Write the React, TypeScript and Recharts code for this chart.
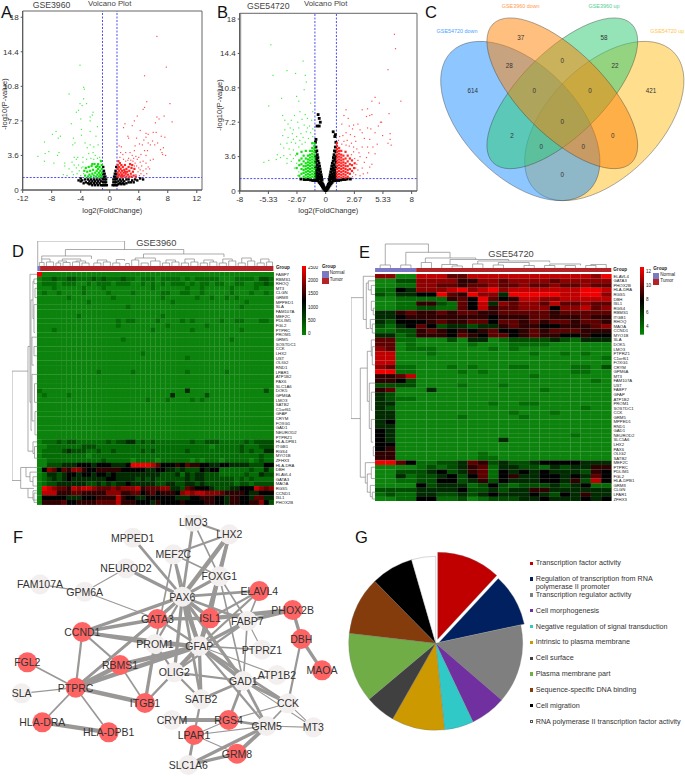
import { ScatterChart, Scatter, XAxis, YAxis, ReferenceLine, ReferenceArea, BarChart, Bar, PieChart, Pie, Cell, Sector, Legend } from 'recharts';

const FONT = '"Liberation Sans", Arial, sans-serif';

// Panel A volcano (log2FC, -log10 P)
const aRed = [[6.5,16],[7.8,12.8],[4.8,11.9],[5.1,9.2],[4.8,8.6],[4.6,8.4],[8.3,9],[3.8,7.7],[7.5,7.7],[6.5,7.6],[8.6,7.1],[6.8,7.4],[6.3,7],[3.4,7.2],[3.1,6.7],[2.1,6.9],[1.9,6.5],[4.2,6.2],[5,5.9],[5.3,5.8],[6,6],[6.4,6],[2.5,5.6],[2.6,5.4],[3.7,5.4],[5,5.5],[4.7,5.2],[7.1,5.6],[7.6,5.5],[5.9,5.1],[1.3,4.6],[1.6,4.5],[3.5,4.6],[4.1,4.8],[4.5,4.7],[5.3,4.9],[5.6,4.7],[6.2,4.7],[6.6,4.9],[7.4,4.4],[7,4.2],[7.2,3.9],[7.7,3.6],[7.3,3.7],[5.2,4.1],[4.8,4.1],[4.3,3.7],[3.4,4.1],[2.8,3.9],[3.1,3.6],[2.2,3.9],[1.8,3.7],[6,3.2],[5.6,3.1],[5,3.6],[5,2.8],[4.6,3],[4.2,2.9],[3.8,3.2],[5.3,2.4],[5,2.2],[4.6,2],[5.5,2.2],[3.6,3.5],[4,3.4],[2.6,3.3],[3.2,3],[3.5,2.8],[2.5,3.1],[4.4,2.5],[4,2.3],[3.7,2.5],[3.9,1.9],[4.3,1.7],[4.7,1.5],[3.6,1.6],[1.4,3.4],[1.9,3.2],[2.2,3],[2.9,3.1],[3.3,3.3],[4.2,2.1],[3.4,2.5],[4.1,1.5],[5.1,1.7],[1.5,3.9]];
const aRedDense = [[1.1,1.4],[1.1,1.8],[1.1,2.2],[1.1,2.6],[1.2,3],[1.3,1.6],[1.3,2],[1.3,2.4],[1.4,2.8],[1.5,1.4],[1.5,1.8],[1.5,2.2],[1.6,2.6],[1.7,1.6],[1.7,2],[1.8,1.4],[1.8,2.4],[1.9,1.8],[2,1.5],[2,2.1],[2.1,2.6],[2.2,1.7],[2.3,1.4],[2.3,2.2],[2.4,1.9],[2.5,1.6],[2.6,2.4],[2.7,1.4],[2.7,2],[2.9,1.7],[3,2.3],[3,1.4],[3.2,1.9],[3.3,1.5],[3.4,2.2],[3.6,1.4],[1.2,1.5],[1.6,1.5],[2.1,1.9],[2.8,2.7],[3.1,2.6]];
const aGreen = [[-4.1,13],[-3.6,10.7],[-3.5,10.5],[-5.6,10],[-3.6,9.5],[-3.2,9],[-4.1,9],[-3.8,8.8],[-4.3,8.3],[-4.6,8.1],[-2.3,8.1],[-2.7,7.6],[-2.4,7.8],[-4,7.4],[-5.3,6.9],[-2.7,7.2],[-1.7,6.6],[-3.9,6.3],[-2.7,6.1],[-7.4,6.1],[-7.9,5.8],[-6.8,5.6],[-7.1,5.4],[-9,5],[-5,5.4],[-3.9,5.7],[-1.9,5.6],[-5.1,4.7],[-3.4,4.9],[-2.7,4.7],[-8.9,3.8],[-8.4,4],[-9.9,3.5],[-9,3],[-7,3.9],[-7.2,3.6],[-7.7,2.8],[-6.2,2.8],[-6.2,2.5],[-6.4,1.6],[-4.8,4.9],[-3.1,4.4],[-2.2,4.5],[-1.6,4.7],[-4.9,3.4],[-4.6,3.2],[-4.4,3.4],[-3.7,3.4],[-2.9,3.8],[-2.3,3.9],[-2,3.6],[-1.4,3.4],[-1.7,3.3],[-5.2,2.9],[-4.9,2.6],[-5.6,2.2],[-5.2,1.9],[-5,1.6],[-4.6,2.3],[-4.3,2.6],[-4.2,2],[-3.7,2.9],[-3.6,1.7],[-4,1.5],[-5.9,1.5],[-1.3,3.1],[-3.2,3.2],[-2.6,3.3],[-2.2,3.2],[-3.9,2.3],[-3.7,2.4],[-4.5,1.7]];
const aGreenDense = [[-1.1,1.4],[-1.1,1.8],[-1.1,2.2],[-1.1,2.6],[-1.2,3],[-1.3,1.6],[-1.3,2],[-1.4,2.4],[-1.5,1.4],[-1.5,1.8],[-1.6,2.2],[-1.6,2.7],[-1.7,1.6],[-1.8,2],[-1.9,1.4],[-1.9,2.4],[-2,1.8],[-2.1,2.7],[-2.2,1.5],[-2.3,2.1],[-2.4,1.7],[-2.5,2.5],[-2.6,1.4],[-2.7,2],[-2.8,1.6],[-2.9,2.4],[-3,1.4],[-3.1,1.9],[-3.3,2.3],[-3.4,1.5],[-3.5,2],[-1.2,1.5],[-1.7,2.5],[-2.4,2.7]];
const aBlack = [[-0.4,0.5],[-0.5,0.8],[-0.5,1.1],[-0.6,0.5],[-0.6,1.4],[-0.7,0.8],[-0.7,1.1],[-0.7,1.7],[-0.8,0.5],[-0.8,1.4],[-0.8,2],[-0.9,0.8],[-0.9,1.1],[-0.9,1.7],[-0.9,2.4],[-1,0.5],[-1,1.2],[-1.2,0.5],[-1.2,0.9],[-1.4,0.7],[-1.4,1.1],[-1.6,0.5],[-1.6,0.9],[-1.8,0.7],[-1.8,1.1],[-2,0.5],[-2,0.9],[-2.2,0.7],[-2.2,1.1],[-2.4,0.5],[-2.4,0.9],[-2.6,0.7],[-2.6,1.1],[-2.8,0.6],[-2.8,0.9],[-3,0.7],[-3,1.1],[-3.3,0.8],[-3.4,1.1],[-3.6,0.7],[-3.8,1],[-4,0.9],[-4,1.2],[-4.3,1],[0.4,0.5],[0.5,0.8],[0.5,1.1],[0.6,0.5],[0.6,1.4],[0.7,0.8],[0.7,1.1],[0.7,1.7],[0.8,0.5],[0.8,1.4],[0.8,2],[0.9,0.8],[0.9,1.1],[0.9,1.7],[0.9,2.4],[1,0.5],[1,1.2],[1.2,0.6],[1.2,0.9],[1.4,0.7],[1.4,1.1],[1.6,0.6],[1.6,0.9],[1.8,0.7],[1.8,1.1],[2,0.6],[2,0.9],[2.3,0.7],[2.3,1.1],[2.6,0.8],[2.6,1.1],[2.9,0.8],[3.1,1],[3.3,0.8],[3.5,1.1],[3.8,1],[4.2,1.2],[4.6,1.1]];

// Panel B volcano
const bRed = [[6.4,16.4],[6.5,14.9],[5.8,12.7],[7,9.4],[4.6,9.8],[5,9.2],[4.3,9.4],[3.9,8.6],[3.4,8.5],[1.9,8.5],[4.3,8],[5.9,8.1],[4.1,7.9],[3.8,7.8],[5.2,7.2],[5.1,7.2],[3,7],[2.6,6.9],[2.1,7.6],[1.7,7.9],[1.5,7],[2.2,6.8],[2.5,6.5],[3.2,6.4],[3.4,6.1],[3.9,6.6],[4.2,6.5],[4.9,6.8],[4.6,6.1],[6,6],[5.3,5.8],[4.1,5.4],[3.6,5.5],[6,5.4],[5.8,5],[6.1,4.8],[4.8,4.9],[4.4,4.6],[3.9,4.6],[3.4,4.6],[4,4],[4.6,3.9],[3.1,4],[3.2,3.6],[3.8,3.5],[3.6,3],[4.1,2.5],[3.4,2.4],[4.3,2.8],[3.9,1.9],[3.5,1.8],[3.2,1.6],[2.9,2.8],[3,2.2],[2.7,5.7],[2.3,5.9],[1.9,6.1],[1.6,5.8],[1.3,5.7],[2.8,5.2],[2.4,5],[2,5.3],[1.7,5.2],[2.9,4.4],[2.6,4.1],[2.7,3.4],[2.8,1.7],[2.5,1.5],[2.2,1.4],[1.2,5.3],[2.2,4.7],[1.5,4.9],[1.9,4.8],[2.6,4.6],[2.4,3.8],[3,3.2],[2.8,2.4],[2.6,1.9]];
const bRedDense = [[1.05,1.4],[1.05,1.7],[1.05,2],[1.05,2.3],[1.05,2.6],[1.05,2.9],[1.05,3.2],[1.05,3.5],[1.05,3.8],[1.05,4.1],[1.05,4.4],[1.05,4.7],[1.05,5],[1.25,1.5],[1.25,1.8],[1.25,2.1],[1.25,2.4],[1.25,2.7],[1.25,3],[1.25,3.3],[1.25,3.6],[1.25,3.9],[1.25,4.2],[1.25,4.5],[1.45,1.4],[1.45,1.7],[1.45,2],[1.45,2.3],[1.45,2.6],[1.45,2.9],[1.45,3.2],[1.45,3.5],[1.45,3.8],[1.45,4.2],[1.65,1.5],[1.65,1.8],[1.65,2.1],[1.65,2.4],[1.65,2.7],[1.65,3],[1.65,3.3],[1.65,3.7],[1.85,1.4],[1.85,1.7],[1.85,2],[1.85,2.3],[1.85,2.6],[1.85,2.9],[1.85,3.4],[1.85,4.1],[2.05,1.5],[2.05,1.9],[2.05,2.2],[2.05,2.6],[2.05,3.1],[2.05,3.7],[2.25,1.8],[2.25,2.3],[2.25,2.8],[2.25,3.4],[2.45,2.1],[2.45,2.7],[2.45,3.2],[2.65,2.4],[2.7,2.9]];
const bGreen = [[-5.1,15.3],[-4.9,12.1],[-3.6,12.6],[-2.1,13.6],[-2.8,12.3],[-1.9,12.1],[-1.8,11.4],[-2,10.6],[-4.1,9.7],[-5.3,8.9],[-2.7,9.9],[-2.5,9.4],[-4,7.9],[-2.9,7.9],[-2.4,8.3],[-1.9,8],[-1.4,9.2],[-1.2,8.3],[-5.75,3],[-5.3,3.2],[-4.5,3.8],[-3.9,3.7],[-3.8,7.4],[-3.5,7],[-3.2,7.4],[-2.6,7.2],[-2.2,7.5],[-1.7,7.6],[-1.3,7.4],[-3.8,6.4],[-3.3,6.6],[-3,6.4],[-2.5,6.6],[-2,6.9],[-1.5,6.8],[-1.2,6.5],[-4,5.8],[-3.5,5.6],[-3.1,6],[-2.7,5.7],[-2.3,6],[-1.8,6.2],[-3.6,5],[-3.2,5.1],[-2.8,5],[-2.4,5.3],[-4.2,4.9],[-3.9,4.5],[-3.4,4.4],[-3,4.3],[-3.6,3.4],[-3.3,3.8],[-3,3.4],[-3.2,3.1],[-2.8,3.7],[-4.2,3.5],[-2.7,2.9],[-2.9,2.4],[-3,5.4],[-1.6,5.5],[-1.2,5.7],[-2.5,2],[-2.6,1.6],[-2.4,1.4],[-2.1,5.6],[-1.9,5.1],[-1.4,6.1],[-2.5,4.6],[-2.2,4.9],[-1.7,6.6],[-4.6,3.3],[-3.6,2.9]];
const bGreenDense = [[-1.05,1.4],[-1.05,1.7],[-1.05,2],[-1.05,2.3],[-1.05,2.6],[-1.05,2.9],[-1.05,3.2],[-1.05,3.5],[-1.05,3.8],[-1.05,4.1],[-1.05,4.4],[-1.05,4.7],[-1.05,5],[-1.25,1.5],[-1.25,1.8],[-1.25,2.1],[-1.25,2.4],[-1.25,2.7],[-1.25,3],[-1.25,3.3],[-1.25,3.6],[-1.25,3.9],[-1.25,4.2],[-1.25,4.5],[-1.25,5],[-1.45,1.4],[-1.45,1.7],[-1.45,2],[-1.45,2.3],[-1.45,2.6],[-1.45,2.9],[-1.45,3.2],[-1.45,3.5],[-1.45,3.8],[-1.45,4.2],[-1.65,1.5],[-1.65,1.8],[-1.65,2.1],[-1.65,2.4],[-1.65,2.7],[-1.65,3],[-1.65,3.3],[-1.65,3.7],[-1.85,1.4],[-1.85,1.7],[-1.85,2],[-1.85,2.3],[-1.85,2.6],[-1.85,2.9],[-1.85,3.4],[-1.85,4.2],[-2.05,1.5],[-2.05,1.9],[-2.05,2.2],[-2.05,2.6],[-2.05,3.1],[-2.05,3.7],[-2.25,1.8],[-2.25,2.3],[-2.25,2.8],[-2.25,3.4],[-2.25,4.1],[-2.45,1.6],[-2.45,2.7],[-2.45,3.2],[-2.65,3.9],[-2.7,2.4]];
const bBlack = [[0,0.05],[-0.08,0.1],[0.08,0.1],[-0.16,0.2],[0.16,0.2],[-0.08,0.25],[0.08,0.25],[-0.24,0.3],[0.24,0.3],[-0.14,0.4],[0.14,0.4],[-0.3,0.45],[0.3,0.45],[-0.2,0.55],[0.2,0.55],[-0.4,0.6],[0.4,0.6],[-0.25,0.7],[0.25,0.7],[-0.5,0.75],[0.5,0.75],[-0.32,0.85],[0.32,0.85],[-0.6,0.9],[0.6,0.9],[-0.42,1],[0.42,1],[-0.7,1.05],[0.7,1.05],[-0.85,1.1],[0.85,1.1],[-1,1.1],[1,1.1],[-1.2,1.1],[1.2,1.1],[-1.4,1.15],[1.4,1.15],[-1.6,1.2],[1.6,1.2],[-1.8,1.2],[1.8,1.2],[-2,1.2],[2,1.25],[-2.3,1.25],[2.3,1.25],[-0.33,1.2],[0.33,1.2],[-0.5,1.25],[0.5,1.25],[-0.65,1.3],[0.65,1.3],[-0.8,1.35],[0.8,1.35],[-0.95,1.4],[0.95,1.4],[-0.38,1.45],[0.38,1.45],[-0.55,1.5],[0.55,1.5],[-0.72,1.6],[0.72,1.6],[-0.88,1.65],[0.88,1.65],[-0.42,1.7],[0.42,1.7],[-0.6,1.8],[0.6,1.8],[-0.78,1.9],[0.78,1.9],[-0.95,1.95],[0.95,1.95],[-0.47,2],[0.47,2],[-0.65,2.15],[0.65,2.15],[-0.85,2.2],[0.85,2.2],[-0.52,2.3],[0.52,2.3],[-0.72,2.45],[0.72,2.45],[-0.95,2.5],[0.95,2.5],[-0.57,2.6],[0.57,2.6],[-0.8,2.75],[0.8,2.75],[-0.62,2.9],[0.62,2.9],[-0.95,3],[0.95,3],[-0.7,3.15],[0.7,3.15],[-0.85,3.3],[0.85,3.3],[-0.72,3.5],[0.72,3.5],[-0.95,3.6],[0.95,3.6],[-0.78,3.8],[0.78,3.8],[-0.95,4.1],[0.95,4.1],[-0.82,4.2],[0.82,4.2],[-0.9,4.6],[0.9,4.6],[-0.95,5.1],[0.95,5.1],[-0.9,5.4],[0.85,5.7],[-0.8,6.8],[-0.6,6.8],[-0.5,7.2],[-0.6,7.6],[-0.7,8],[0.7,6.2],[0.9,5.9]];

// Panels D and E heatmaps: one digit per cell, 0 green, 4 black, 9 red
const dGenes = ['FABP7','RBMS1','RHOQ','MT3','CLGN','GRM8','MPPED1','SLA','FAM107A','MEF2C','PDLIM1','FGL2','PTPRC','PROM1','GRM5','SOSTDC1','CCK','LHX2','UST','OLIG2','RND1','LPAR1','ATP1B2','PAX6','SLC1A6','DOK5','GPM6A','LMO3','SATB2','C1orf61','GFAP','CRYM','FOXG1','GAD1','NEUROD2','PTPRZ1','HLA-DPB1','ITGB1','RGS4','MYO1B','ZFHX3','HLA-DRA','DBH','ELAVL4','GATA3','MAOA','RGS5','CCND1','ISL1','PHOX2B'];
const dRows = [
  '900000000000 000000000000 000000000000 000000000000',
  '011211221112 121112110111 011110101111 100011110221',
  '011101110010 111011100101 010111010110 110011001121',
  '000100000100 010000000001 000000100100 000100001000',
  '010010000100 001000010000 011001100100 000100010010',
  '000000100000 000100000000 010000001001 001010000000',
  '000000000010 000000000000 000100000000 000000100000',
  '000000000000 000000100000 000000000000 000001000000',
  '000000000000 000000000000 000000000000 000000000000',
  '000000001000 000000000000 010000000000 000000000000',
  '000000000000 000010110000 100001010000 010011000110',
  '000000000000 000010000000 001000000010 000000000000',
  '000100000000 000000000001 000000010000 000001000000',
  '000000000000 000000000000 000000000000 000000000000',
  '000000000000 000001000000 000000000000 000100000000',
  '000000000000 000000000000 000000000000 000000000000',
  '000000000000 000000000000 000000000000 000000000000',
  '000000000000 000000000100 000000000000 000000000000',
  '000000000000 000000000000 000000100000 000000000000',
  '000000000000 000000000000 000000000000 000000000000',
  '000000000000 000000000000 000000000000 000000000000',
  '000000000000 100000010000 000000100000 001000000000',
  '000000000000 000000000000 000000000000 000000000000',
  '000000000000 000000000000 000000000000 000000000000',
  '000000000000 000000000000 000000000000 000000000000',
  '100000000000 000000000000 000000300000 000000000020',
  '010000100000 000000000000 000300000020 000000000000',
  '000000000000 000000000010 001000010100 000000000000',
  '000000000000 000000000000 000000000000 000000000000',
  '000000000000 000000000000 000000000000 000000000000',
  '000000000000 000000000000 000000000000 000000000000',
  '000000000000 000000000000 000000000000 000000000000',
  '000000000000 000000000000 000000000000 000000000000',
  '000000000000 000000000000 000000000000 000000000000',
  '000000000000 000000000000 000000000000 000000000000',
  '000000000000 000000000000 000000000000 000000000000',
  '011121221111 112122331212 111111121122 211111212222',
  '001111111222 111111111111 111111111110 111112111222',
  '011112322211 211211111212 111111211111 111112121133',
  '011111111101 111111111111 111111111111 111111111211',
  '001111111111 121111101111 011111101011 101111101211',
  '002223334443 444333499998 644454655443 344333322244',
  '047646577544 555554444433 443323222434 411111121131',
  '013323443443 443433333333 322231323322 211111211322',
  '012323433333 334433332323 222222323322 222212121111',
  '012233333322 323233433333 223322332322 222212212222',
  '098766587887 666767778566 677332654443 222334448767',
  '088855566555 557775566456 455547878877 765555433444',
  '044444333444 555585443344 444433344555 443554436633',
  '055556445555 666685554443 544445444455 443554455742',
];
const eGenes = ['ELAVL4','GATA3','PHOX2B','HLA-DRA','RGS5','DBH','ISL1','RGS4','RBMS1','ITGB1','RHOQ','MAOA','CCND1','MYO1B','SLA','DOK5','LMO3','PTPRZ1','C1orf61','FOXG1','CRYM','GPM6A','MT3','FAM107A','UST','FABP7','GFAP','ATP1B2','PROM1','SOSTDC1','CCK','GRM5','MPPED1','RND1','GAD1','NEUROD2','SLC1A6','LHX2','PAX6','OLIG2','SATB2','MEF2C','PTPRC','PDLIM1','FGL2','HLA-DPB1','GRM8','CLGN','LPAR1','ZFHX3'];
const eRows = [
  '7700 8886688888888888879',
  '0022 7777557767777677777',
  '0011 7766566766766766766',
  '1143 7778978978888888998',
  '2133 4496597739999988997',
  '0011 1115649645887788888',
  '0011 5521648376776866766',
  '0011 2211648566777477867',
  '3356 5565665566666566666',
  '3345 5555555455566555655',
  '3244 4565566466565665665',
  '2134 6423323356554455567',
  '1122 5654545644565666555',
  '3312 5554654664565544544',
  '6611 0002033012222321333',
  '6601 0000010001111000000',
  '7601 1100000101000000000',
  '8800 0100000000010010100',
  '8800 0000000000000000001',
  '8800 0000000000000000000',
  '7611 0001010001100001102',
  '9911 0000101000000001100',
  '5568 0000000000010000000',
  '5542 0000000000000000010',
  '2222 0000100010000000000',
  '5600 0300000000001000000',
  '3200 0000000000000000000',
  '3211 0000000000000000000',
  '3300 0000000100110000000',
  '3200 0000000000000000100',
  '3300 0000000001000100000',
  '3300 0000100000100000000',
  '3400 0000000000000000000',
  '3300 0000000000000000000',
  '4300 0000000000000000000',
  '4300 0000000000000001000',
  '4300 0000000030000000000',
  '4400 0000000000000000000',
  '4500 0000000000000000000',
  '5500 0000001000000000000',
  '5500 0000001100000000000',
  '9964 1122365232234444333',
  '0000 1212356133221323355',
  '0022 2342356143434333254',
  '0031 2234246145334434364',
  '0011 2244235243334435284',
  '0000 4233312421222323411',
  '2222 3333422323355333333',
  '1211 3322323433343243533',
  '0011 4411201222334333434',
];
const heatColors = ['#0c830c','#046c04','#004e00','#002a00','#000000','#2e0000','#5c0000','#8c0000','#c00000','#f00000'];

// Dendrograms: [a, heightA, b, heightB, top]
const dTopLinks = [[0.3,0,37,16.5,25],[12,10,62,12,16.5],[2,7,23,7,10],[45,8,79,9,12],[1,0,3,0,3.5],[4,0,7,0,4],[2,3.5,5.5,4,7],[8,0,10,0,3],[11,0,14,0,3.5],[9,3,12.5,3.5,5],[15,0,18,0,4],[19,0,22,0,3],[16.5,4,20.5,3,5],[10.7,5,18.5,5,7],[24,0,27,0,3],[28,0,31,0,4],[25.5,3,29.5,4,6],[32,0,35,0,3],[33.5,3,37,5,6.5],[40,0,43,0,6],[41.5,6,50,5,8],[44,0,47,0,3],[48,0,52,0,5],[53,0,56,0,3],[57,0,60,0,4],[54.5,3,58.5,4,6],[61,0,64,0,3],[65,0,68,0,4],[62.5,3,66.5,4,7],[69,0,72,0,3],[73,0,76,0,4],[70.5,3,74.5,4,6],[77,0,80,0,3],[81,0,84,0,5],[78.5,3,82.5,5,7],[85,0,88,0,3],[89,0,92,0,5],[86.5,3,90.5,5,8],[93,0,96,0,3],[97,0,99.5,0,4],[94.5,3,98,4,7],[37.5,0,39,0,2.5]];
const dSideLinks = [[21.3,9,44.8,16.3,25],[16,7,38.5,4,9],[0.5,0,28,6,7],[6,4,34,5,6],[2,3,10,3,4],[1.5,0,2.5,0,3],[3.5,0,5.5,0,2],[7,0,13,2,3],[14,0,20,3,5],[22,0,32,2.5,5],[24,0,28,0,2.5],[30,0,35,0,2],[16,0,18,0,3],[36.5,0,39,2.5,4],[37.5,0,40,0,2.5],[42,11,46.5,9,16.3],[42,0,44,7,11],[43,0,45,4,7],[44,0,46,0,4],[46.5,3,48.5,4,9],[47.5,0,49.5,0,3],[47,0,49,0,4]];
const eTopLinks = [[1,3,5.2,15.7,24],[0.5,0,1.5,0,3],[2.5,0,3.5,0,3],[3,3,7.3,10,15.7],[4.9,5.5,9.8,8.5,10],[4.5,0,5.5,0,5.5],[7.3,3.5,13,7,8.5],[6.5,0,8,2,3.5],[7.5,0,8.5,0,2],[10,4,17,5.5,7],[9.5,0,10.5,0,4],[11.5,0,12.5,0,3],[12,3,15,2.5,5.5],[14.5,0,15.5,0,2.5],[16.5,0,17.5,0,2.5],[17,2.5,20,2.5,4],[18.5,0,19.5,0,2.5],[20.5,0,21.5,0,2.5],[21,2.5,22.5,0,3.5]];
const eSideLinks = [[5.2,12,31.8,15,24.3],[0.5,0,10,9,12],[2,7,12,6,9],[1.5,0,3.5,4,7],[2.5,0,4.5,0,4],[6,0,8,2,4],[7.5,0,9,0,2],[10,0,12,3,5],[11,0,13,0,3],[20.7,8,44.7,10,15],[17,4,28,6,8],[14.5,0,18,3,4],[16,0,20,0,3],[24,0,34,4,6],[26,0,30,3,4],[32,0,37,2,4],[38,0,40,0,2],[41.5,0,46,8,10],[44,4,48,5,8],[42.5,0,45,0,4],[46.5,0,49,3,5],[48,0,49.5,0,3]];

// Panel C Venn counts
const vennSets = ['GSE54720 down','GSE3960 down','GSE3960 up','GSE54720 up'];
const vennCounts = ['614','37','58','421','28','22','0','0','0','0','2','0','0','0','0'];

// Panel F network: names and layout
const geneNames = ['LMO3','LHX2','MPPED1','MEF2C','NEUROD2','FOXG1','FAM107A','GPM6A','PAX6','ELAVL4','PHOX2B','GATA3','ISL1','FABP7','CCND1','DBH','PROM1','GFAP','PTPRZ1','FGL2','RBMS1','OLIG2','MAOA','ATP1B2','GAD1','PTPRC','SLA','SATB2','ITGB1','CCK','CRYM','RGS4','HLA-DRA','GRM5','MT3','HLA-DPB1','LPAR1','GRM8','SLC1A6'];
const geneX = [580,688,398,520,378,658,120,254,547,778,878,472,630,742,247,904,465,598,786,82,360,523,966,831,730,227,65,603,435,864,516,686,127,800,940,326,582,711,565];
const geneY = [20,58,68,118,160,184,208,230,245,228,285,312,310,318,351,372,387,393,404,442,450,472,466,480,498,518,535,553,564,565,615,615,622,633,637,652,660,716,750];
const upGenes = ['ELAVL4','PHOX2B','GATA3','ISL1','CCND1','DBH','FGL2','RBMS1','MAOA','PTPRC','ITGB1','RGS4','HLA-DRA','HLA-DPB1','LPAR1','GRM8'];
const geneEdges: [string, string, number][] = [['LMO3','LHX2',2],['LMO3','PAX6',2.5],['LMO3','FOXG1',1.5],['LHX2','MEF2C',2],['LHX2','FOXG1',3],['LHX2','PAX6',4],['LHX2','GFAP',3],['MPPED1','PAX6',2.5],['MEF2C','PAX6',2],['MEF2C','FOXG1',1.5],['MEF2C','GFAP',2],['MEF2C','PROM1',1.5],['NEUROD2','PAX6',3],['NEUROD2','GPM6A',1],['FAM107A','GPM6A',1],['GPM6A','GATA3',1],['FOXG1','PAX6',3],['FOXG1','GFAP',3],['FOXG1','ISL1',2],['FOXG1','FABP7',1.5],['FOXG1','GAD1',1.5],['PAX6','ELAVL4',2.5],['PAX6','ISL1',3.5],['PAX6','GATA3',3],['PAX6','CCND1',3],['PAX6','GFAP',4],['PAX6','OLIG2',3],['PAX6','SATB2',2.5],['PAX6','PROM1',2],['PAX6','FABP7',2.5],['PAX6','GAD1',3],['PAX6','PTPRC',2],['ELAVL4','GFAP',2],['ELAVL4','FABP7',1.5],['ELAVL4','ISL1',2],['PHOX2B','ISL1',4],['PHOX2B','FABP7',3.5],['PHOX2B','DBH',3],['DBH','MAOA',3],['DBH','CCK',2],['GATA3','CCND1',3],['GATA3','PTPRC',2.5],['GATA3','GFAP',2],['GATA3','ISL1',3],['CCND1','PROM1',3],['CCND1','RBMS1',2],['CCND1','GFAP',2.5],['CCND1','PTPRC',2],['ISL1','GFAP',3],['FABP7','GFAP',3],['FABP7','PTPRZ1',1],['FABP7','GAD1',1.5],['FABP7','OLIG2',2],['GFAP','PROM1',3],['GFAP','OLIG2',4],['GFAP','PTPRC',4],['GFAP','RBMS1',4],['GFAP','GAD1',3.5],['GFAP','CCK',2.5],['GFAP','SATB2',3],['GFAP','PTPRZ1',1.5],['GFAP','ATP1B2',1],['GFAP','ITGB1',2],['GFAP','GRM5',2],['PROM1','ITGB1',3],['PROM1','OLIG2',2],['OLIG2','ITGB1',1.5],['OLIG2','GAD1',2],['OLIG2','SATB2',2],['RBMS1','PTPRC',4],['RBMS1','ITGB1',1.5],['PTPRC','FGL2',1.5],['PTPRC','SLA',1],['PTPRC','ITGB1',4],['PTPRC','HLA-DRA',1.5],['PTPRC','HLA-DPB1',1.5],['HLA-DRA','HLA-DPB1',4],['GAD1','SATB2',2.5],['GAD1','RGS4',2.5],['GAD1','GRM5',2.5],['GAD1','CCK',3],['GAD1','MT3',1],['GAD1','ATP1B2',1],['CCK','GRM5',1.5],['CCK','MT3',1],['CCK','RGS4',1],['CRYM','RGS4',3.5],['RGS4','GRM5',2.5],['GRM5','MT3',1],['GRM5','LPAR1',1],['GRM5','GRM8',3.5],['GRM5','SLC1A6',3],['LPAR1','RGS4',1],['LPAR1','SLC1A6',2.5],['LPAR1','GRM8',1],['SATB2','LPAR1',2],['GRM8','SLC1A6',3]];

// Panel G pie
const pieNames = ['Transcription factor activity','Regulation of transcription from RNA polymerase II promoter','Transcription regulator activity','Cell morphogenesis','Negative regulation of signal transduction','Intrinsic to plasma membrane','Cell surface','Plasma membrane part','Sequence-specific DNA binding','Cell migration','RNA polymerase II transcription factor activity'];
const pieValues = [12.2,10,15.1,6.8,5.6,10.1,5.8,13.3,11.1,8.1,4.6];
const pieColors = ['#c00000','#002060','#7f7f7f','#7030a0','#31c8c8','#cc9900','#404040','#70ad47','#843c0c','#000000','#ffffff'];

const pts = (a: number[][]) => a.map(([x, y]) => ({ x, y }));
const dot = (size: number, fill: string) => (p: any) => <rect x={p.cx - size / 2} y={p.cy - size / 2} width={size} height={size} fill={fill} />;

function Txt({ x, y, size, children, color = '#222', anchor = 'left', weight = 400 }: any) {
  const shift = anchor === 'middle' ? 'translateX(-50%)' : 'none';
  return <div style={{ position: 'absolute', left: x, top: y - size * 0.9, fontSize: size, lineHeight: 1.03 + 'em', color, fontFamily: FONT, whiteSpace: 'nowrap', transform: shift, fontWeight: weight }}>{children}</div>;
}

function VTxt({ x, y, size, children }: any) {
  return <div style={{ position: 'absolute', left: x, top: y, fontSize: size, lineHeight: 1, color: '#333', fontFamily: FONT, whiteSpace: 'nowrap', transform: 'translate(-50%,-50%) rotate(-90deg)' }}>{children}</div>;
}

function Volcano({ left, right, top, bottom, xDomain, yMax, xTicks, black, green, greenDense, red, redDense, blackSize, pageX, band }: any) {
  const tick = { fontSize: 8, fill: '#333', fontFamily: FONT };
  const h = 218;
  return (
    <ScatterChart width={215} height={h} margin={{ top, right: 215 - right, left: 0, bottom: 0 }} style={{ position: 'absolute', left: pageX, top: 0 }}>
      <XAxis type="number" dataKey="x" domain={xDomain} ticks={xTicks} interval={0} height={h - bottom} tick={tick} tickSize={3} stroke="#555"
        label={{ value: 'log2(FoldChange)', position: 'insideBottom', offset: 5, fontSize: 7.5, fill: '#333', fontFamily: FONT }} />
      <YAxis type="number" dataKey="y" domain={[0, yMax]} ticks={[0, 3.6, 7.2, 10.8, 14.4, 18]} interval={0} width={left} tick={tick} tickSize={2} stroke="#555" />
      {band && <ReferenceArea x1={xDomain[0]} x2={xDomain[0] + band} y1={0} y2={yMax} fill="#bbb" fillOpacity={1} stroke="none" />}
      <ReferenceArea x1={xDomain[0]} x2={xDomain[1]} y1={0} y2={yMax} fill="none" stroke="#666" strokeWidth={1} />
      <Scatter data={pts(black)} fill="#000" isAnimationActive={false} shape={dot(blackSize, '#000')} />
      <Scatter data={pts(green)} fill="#33ee33" isAnimationActive={false} shape={dot(1.2, '#44ee44')} />
      <Scatter data={pts(greenDense)} fill="#00e000" isAnimationActive={false} shape={dot(2.2, '#10e010')} />
      <Scatter data={pts(red)} fill="#ff3030" isAnimationActive={false} shape={dot(1.2, '#ff5050')} />
      <Scatter data={pts(redDense)} fill="#ff2020" isAnimationActive={false} shape={dot(2.2, '#ff2525')} />
      <ReferenceLine x={-1} stroke="#3a3af0" strokeWidth={0.9} strokeDasharray="2 1.5" />
      <ReferenceLine x={1} stroke="#3a3af0" strokeWidth={0.9} strokeDasharray="2 1.5" />
      <ReferenceLine y={1.3} stroke="#3a3af0" strokeWidth={0.9} strokeDasharray="2 1.5" />
    </ScatterChart>
  );
}

function Heatmap({ pageX, pageY, width, height, labelWidth, genes, rows, grid }: any) {
  const parsed: string[] = rows.map((r: string) => r.replace(/ /g, ''));
  const nCols = parsed[0].length;
  const cells = parsed.flatMap((row, r) => [...row].map((c, i) => ({ col: i + 0.5, row: r + 0.5, level: Number(c) })));
  const cw = width / nCols;
  const ch = height / parsed.length;
  const ticks = genes.map((_: string, i: number) => i + 0.5);
  return (
    <ScatterChart width={width + labelWidth} height={height} margin={{ top: 0, right: 0, left: 0, bottom: 0 }} style={{ position: 'absolute', left: pageX, top: pageY }}>
      <XAxis type="number" dataKey="col" domain={[0, nCols]} hide />
      <YAxis type="number" dataKey="row" domain={[0, parsed.length]} reversed orientation="right" width={labelWidth} ticks={ticks} interval={0} axisLine={false} tickLine={false} tickSize={0} tickMargin={2}
        tick={{ fontSize: 4.3, fill: '#222', fontFamily: FONT }} tickFormatter={(v: number) => genes[Math.floor(v)]} />
      <Scatter data={cells} isAnimationActive={false} shape={(p: any) => (
        <rect x={p.cx - cw / 2} y={p.cy - ch / 2} width={cw + 0.25} height={ch + 0.25} fill={heatColors[p.payload.level]} stroke="#ddd" strokeOpacity={grid} strokeWidth={0.3} />
      )} />
    </ScatterChart>
  );
}

function Dendro({ pageX, pageY, width, height, links, across, span, side }: any) {
  const poly = (l: number[]) => {
    const [a, ha, b, hb, t] = l;
    const seq = [[a, ha], [a, t], [b, t], [b, hb]];
    return seq.map(([c, hh]) => (side ? { x: hh, y: c } : { x: c, y: hh }));
  };
  return (
    <ScatterChart width={width} height={height} margin={{ top: 0, right: 0, left: 0, bottom: 0 }} style={{ position: 'absolute', left: pageX, top: pageY }}>
      <XAxis type="number" dataKey="x" hide domain={side ? [0, span] : [0, across]} reversed={!!side} allowDataOverflow />
      <YAxis type="number" dataKey="y" hide domain={side ? [0, across] : [0, span]} reversed={!!side} allowDataOverflow />
      {links.map((l: number[], i: number) => (
        <Scatter key={i} data={poly(l)} isAnimationActive={false} line={{ stroke: '#888', strokeWidth: 0.7 }} shape={() => null} />
      ))}
    </ScatterChart>
  );
}

function GroupBar({ pageX, pageY, width, height, normal, tumor }: any) {
  const data = [{ name: 'Group', normal, tumor }];
  return (
    <BarChart layout="vertical" width={width} height={height} data={data} barCategoryGap={0} margin={{ top: 0, right: 0, left: 0, bottom: 0 }} style={{ position: 'absolute', left: pageX, top: pageY }}>
      <XAxis type="number" hide domain={[0, normal + tumor]} />
      <YAxis type="category" dataKey="name" hide />
      <Bar dataKey="normal" stackId="g" fill="#7b78c4" isAnimationActive={false} />
      <Bar dataKey="tumor" stackId="g" fill="#b22428" isAnimationActive={false} />
    </BarChart>
  );
}

function ColorBar({ id, pageX, pageY, height, low, high, ticks }: any) {
  return (
    <BarChart width={26} height={height} data={[{ v: [low, high] }]} barCategoryGap={0} margin={{ top: 0, right: 0, left: 0, bottom: 0 }} style={{ position: 'absolute', left: pageX, top: pageY }}>
      <defs>
        <linearGradient id={id} x1="0" y1="0" x2="0" y2="1">
          <stop offset="0" stopColor="#ff0000" />
          <stop offset="0.5" stopColor="#000000" />
          <stop offset="1" stopColor="#008800" />
        </linearGradient>
      </defs>
      <XAxis hide />
      <YAxis orientation="right" width={22} domain={[low, high]} ticks={ticks} interval={0} axisLine={false} tickLine={false} tickSize={0} tickMargin={2} tick={{ fontSize: 4.6, fill: '#222', fontFamily: FONT }} />
      <Bar dataKey="v" fill={`url(#${id})`} isAnimationActive={false} />
    </BarChart>
  );
}

function GroupLegend({ x, y, chip, gap }: any) {
  return (
    <>
      <Txt x={x} y={y} size={4.6} weight={700}>Group</Txt>
      <div style={{ position: 'absolute', left: x, top: y + 2, width: chip, height: gap, background: '#7b78c4' }} />
      <div style={{ position: 'absolute', left: x, top: y + 2 + gap, width: chip, height: gap, background: '#b22428' }} />
      <Txt x={x + chip + 1} y={y + 2 + gap * 0.7} size={4.6}>Normal</Txt>
      <Txt x={x + chip + 1} y={y + 2 + gap * 1.7} size={4.6}>Tumor</Txt>
    </>
  );
}

// outlines of the Venn are ellipses: center x, center y, rx, ry, rotation; drawn yellow, blue, green, orange
const vennEllipses = [[604.3, 121, 97.7, 56, -45], [520.3, 121, 97.7, 56, 45], [562.3, 93.3, 98, 42, -45], [562.3, 93.3, 98, 42, 45]];
const vennFills = ['#ffbe1e', '#1e90ff', '#2ac971', '#ff7f00'];
const vennTextPos = [[472.7,90.3],[520.7,37.7],[604,37.7],[651,90.3],[509.3,65.7],[615,65.7],[562.3,60],[534.3,90.3],[590,90.3],[562.3,121.3],[512,135],[612.7,135],[541.3,146.7],[583.3,146.7],[562.3,174.3]];

function Venn() {
  const shapes = vennEllipses.map((e, i) => ({ x: e[0], y: e[1], i }));
  const labels = vennCounts.map((t, i) => ({ x: vennTextPos[i][0], y: vennTextPos[i][1], t }));
  return (
    <ScatterChart width={265} height={215} margin={{ top: 0, right: 0, left: 0, bottom: 0 }} style={{ position: 'absolute', left: 420, top: 0 }}>
      <XAxis type="number" dataKey="x" hide domain={[420, 685]} />
      <YAxis type="number" dataKey="y" hide domain={[0, 215]} reversed />
      <Scatter data={shapes} isAnimationActive={false} shape={(p: any) => {
        const e = vennEllipses[p.payload.i];
        return <ellipse cx={p.cx} cy={p.cy} rx={e[2]} ry={e[3]} transform={`rotate(${e[4]} ${p.cx} ${p.cy})`} fill={vennFills[p.payload.i]} fillOpacity={0.5} stroke="#333" strokeOpacity={0.75} strokeWidth={0.5} />;
      }} />
      <Scatter data={labels} isAnimationActive={false} shape={(p: any) => (
        <text x={p.cx} y={p.cy} textAnchor="middle" dominantBaseline="central" fontSize={6.3} fill="#333" fontFamily={FONT}>{p.payload.t}</text>
      )} />
    </ScatterChart>
  );
}

function Network() {
  const nodes = geneNames.map((name, i) => ({ x: geneX[i], y: geneY[i], name, up: upGenes.includes(name) }));
  const byName = Object.fromEntries(nodes.map((n) => [n.name, n]));
  return (
    <ScatterChart width={340} height={261} margin={{ top: 0, right: 0, left: 0, bottom: 0 }} style={{ position: 'absolute', left: 0, top: 515 }}>
      <XAxis type="number" dataKey="x" hide domain={[0, 1020]} />
      <YAxis type="number" dataKey="y" hide domain={[0, 783]} reversed />
      {geneEdges.map(([a, b, w], i) => (
        <Scatter key={i} data={[byName[a], byName[b]]} isAnimationActive={false} line={{ stroke: '#9a9896', strokeWidth: w * 1.1 }} shape={() => null} />
      ))}
      <Scatter data={nodes} isAnimationActive={false} shape={(p: any) => <circle cx={p.cx} cy={p.cy} r={10} fill={p.payload.up ? '#ff6464' : '#f3efef'} />} />
      <Scatter data={nodes} isAnimationActive={false} shape={(p: any) => (
        <text x={p.cx} y={p.cy} textAnchor="middle" dominantBaseline="central" fontSize={10.5} fill="#333" fontFamily={FONT}>{p.payload.name}</text>
      )} />
    </ScatterChart>
  );
}

const pieOffsets: Record<number, [number, number]> = { 0: [2, -4], 1: [3.5, -1] };
const legendTops = [563.3, 579, 595, 610.7, 626.7, 642.3, 658.3, 674, 690, 705.7, 721.7];

function GoPie() {
  const data = pieNames.map((name, i) => ({ name, value: pieValues[i] }));
  return (
    <PieChart width={345} height={210} margin={{ top: 0, right: 0, left: 0, bottom: 0 }} style={{ position: 'absolute', left: 340, top: 530 }}>
      <Pie data={data} dataKey="value" cx={95.7} cy={113.3} innerRadius={0} outerRadius={87} startAngle={90} endAngle={-270} stroke="#777" strokeWidth={0.3} isAnimationActive={false}
        shape={(p: any) => {
          const off = pieOffsets[p.index] || [0, 0];
          return <g transform={`translate(${off[0]} ${off[1]})`}><Sector {...p} /></g>;
        }}>
        {data.map((d, i) => <Cell key={d.name} fill={pieColors[i]} />)}
      </Pie>
      <Legend wrapperStyle={{ left: 0, top: 0, width: 345, height: 210, position: 'absolute' }} content={() => (
        <div style={{ position: 'relative', width: 345, height: 210, fontFamily: FONT, fontSize: 7.2, color: '#333', lineHeight: '8.4px' }}>
          {pieNames.map((n, i) => (
            <div key={n} style={{ position: 'absolute', left: 190, top: legendTops[i] - 530 - 1.7, width: 3.4, height: 3.4, background: pieColors[i], border: i === 10 ? '0.4px solid #555' : 'none', boxSizing: 'border-box' }} />
          ))}
          {pieNames.map((n, i) => (
            <div key={n} style={{ position: 'absolute', left: 195.7, top: legendTops[i] - 530 - 4.2, width: i === 1 ? 130 : 160 }}>{n}</div>
          ))}
        </div>
      )} />
    </PieChart>
  );
}

export default function App() {
  const letter = (t: string, x: number, y: number) => <Txt x={x} y={y} size={16.5} color="#111">{t}</Txt>;
  return (
    <div style={{ position: 'absolute', left: 0, top: 0, width: 685, height: 776, overflow: 'hidden', background: '#fff' }}>
      <Volcano pageX={0} left={22.7} right={202} top={11} bottom={190} xDomain={[-12, 12.72]} yMax={18.65} xTicks={[-12, -8, -4, 0, 4, 8, 12]}
        black={aBlack} green={aGreen} greenDense={aGreenDense} red={aRed} redDense={aRedDense} blackSize={2.4} />
      <Volcano pageX={215} left={24.7} right={202} top={13.3} bottom={191} xDomain={[-8, 8.5]} yMax={18.6} xTicks={[-8, -5.33, -2.67, 0, 2.67, 5.33, 8]} band={0.15}
        black={bBlack} green={bGreen} greenDense={bGreenDense} red={bRed} redDense={bRedDense} blackSize={2.8} />
      <VTxt x={4.5} y={103.5} size={7.5}>-log10(P-value)</VTxt>
      <VTxt x={220} y={105} size={7.5}>-log10(P-value)</VTxt>
      {letter('A', 1, 18.5)}
      {letter('B', 217, 18.5)}
      {letter('C', 425, 18.5)}
      <Txt x={32.7} y={8.7} size={8.7} color="#444">GSE3960</Txt>
      <Txt x={88} y={7} size={7.8} color="#444">Volcano Plot</Txt>
      <Txt x={247} y={9.5} size={8.7} color="#444">GSE54720</Txt>
      <Txt x={304} y={7.5} size={7.8} color="#444">Volcano Plot</Txt>

      <Venn />
      <Txt x={457} y={33.5} size={5.4} color="#4aa3ff" anchor="middle">{vennSets[0]}</Txt>
      <Txt x={520.7} y={9} size={5.4} color="#ff9a50" anchor="middle">{vennSets[1]}</Txt>
      <Txt x={604} y={9} size={5.4} color="#4fd08c" anchor="middle">{vennSets[2]}</Txt>
      <Txt x={667.3} y={33.5} size={5.4} color="#ffc44f" anchor="middle">{vennSets[3]}</Txt>

      {letter('D', 12, 258)}
      <Txt x={156.3} y={247} size={9.3} color="#444" anchor="middle">GSE3960</Txt>
      <Dendro pageX={37.3} pageY={241} width={236.7} height={25} links={dTopLinks} across={100} span={25} />
      <GroupBar pageX={37.3} pageY={266.3} width={236.7} height={4.7} normal={1} tumor={84} />
      <Dendro pageX={12} pageY={272.3} width={25} height={232.7} links={dSideLinks} across={50} span={25} side />
      <Heatmap pageX={37.3} pageY={272.3} width={236.7} height={232.7} labelWidth={32} genes={dGenes} rows={dRows} grid={0.05} />
      <Txt x={276} y={270.5} size={4.6} weight={700}>Group</Txt>
      <ColorBar id="rampD" pageX={302.3} pageY={265.7} height={69.3} low={-76} high={2550} ticks={[2500, 2000, 1500, 1000, 500, 0]} />
      <GroupLegend x={322} y={269} chip={6.7} gap={6.5} />

      {letter('E', 359, 259)}
      <Txt x={511} y={258} size={9.3} color="#444" anchor="middle">GSE54720</Txt>
      <Dendro pageX={375.3} pageY={243} width={236.4} height={25} links={eTopLinks} across={23} span={25} />
      <GroupBar pageX={375.3} pageY={268} width={236.4} height={4.3} normal={4} tumor={19} />
      <Dendro pageX={351} pageY={273.7} width={24.3} height={227.3} links={eSideLinks} across={50} span={24.3} side />
      <Heatmap pageX={375.3} pageY={273.7} width={236.4} height={227.3} labelWidth={30} genes={eGenes} rows={eRows} grid={0.2} />
      <Txt x={613.3} y={272} size={4.6} weight={700}>Group</Txt>
      <ColorBar id="rampE" pageX={640} pageY={267.3} height={67.7} low={2.84} high={12.64} ticks={[12, 10, 8, 6, 4]} />
      <GroupLegend x={653.3} y={271} chip={6} gap={6} />

      {letter('F', 13, 544)}
      <Network />
      {letter('G', 355, 544)}
      <GoPie />
    </div>
  );
}
